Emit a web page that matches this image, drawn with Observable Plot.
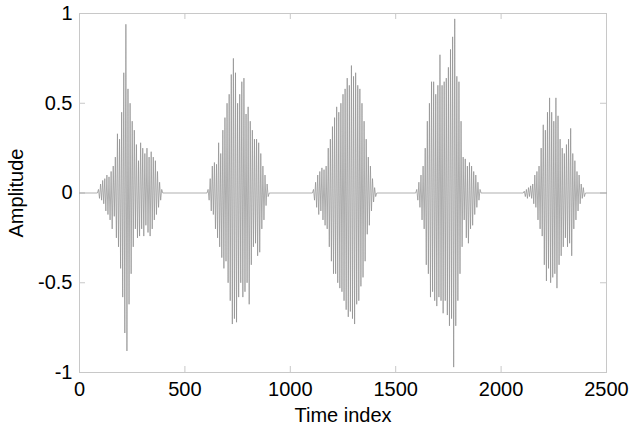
<!DOCTYPE html>
<html>
<head>
<meta charset="utf-8">
<script src="https://cdn.jsdelivr.net/npm/d3@7"></script>
<script src="https://cdn.jsdelivr.net/npm/@observablehq/plot@0.6"></script>
<style>
  html, body { margin: 0; padding: 0; background: #fff; }
  #chart { width: 630px; height: 427px; }
</style>
</head>
<body>
<div id="chart"></div>
<script>
// Burst start time indices and spacing between successive extrema
const burstStarts = [90, 610, 1110, 1600, 2110];
const sampleStep = 5;
const timeEnd = 2500;

// Alternating extrema, per burst
const burst1 = [0.02, -0.03, 0.05, -0.04, 0.07, -0.06, 0.08, -0.10, 0.10, -0.12,
  0.09, -0.15, 0.12, -0.20, 0.15, -0.13, 0.20, -0.25, 0.33, -0.30,
  0.30, -0.42, 0.45, -0.58, 0.67, -0.78, 0.94, -0.88, 0.58, -0.62,
  0.50, -0.45, 0.40, -0.30, 0.35, -0.20, 0.27, -0.25, 0.18, -0.24,
  0.28, -0.20, 0.25, -0.24, 0.22, -0.18, 0.25, -0.22, 0.20, -0.24,
  0.23, -0.20, 0.20, -0.15, 0.18, -0.12, 0.12, -0.08, 0.06, -0.04, 0.02];
const burst2 = [0.02, -0.04, 0.08, -0.10, 0.15, -0.12, 0.17, -0.20, 0.16, -0.25,
  0.28, -0.30, 0.22, -0.36, 0.35, -0.42, 0.42, -0.38, 0.50, -0.50,
  0.55, -0.60, 0.66, -0.73, 0.75, -0.70, 0.67, -0.72, 0.50, -0.58,
  0.55, -0.50, 0.62, -0.58, 0.64, -0.55, 0.44, -0.50, 0.48, -0.62,
  0.40, -0.40, 0.35, -0.30, 0.30, -0.28, 0.30, -0.35, 0.28, -0.33,
  0.22, -0.20, 0.15, -0.15, 0.10, -0.07, 0.05, -0.02];
const burst3 = [0.02, -0.04, 0.06, -0.08, 0.10, -0.12, 0.12, -0.10, 0.14, -0.15,
  0.13, -0.18, 0.15, -0.20, 0.25, -0.30, 0.30, -0.38, 0.37, -0.45,
  0.42, -0.45, 0.48, -0.50, 0.45, -0.53, 0.50, -0.55, 0.55, -0.60,
  0.58, -0.65, 0.64, -0.69, 0.60, -0.66, 0.71, -0.70, 0.65, -0.73,
  0.67, -0.62, 0.60, -0.60, 0.58, -0.52, 0.50, -0.47, 0.40, -0.38,
  0.30, -0.23, 0.20, -0.18, 0.15, -0.10, 0.08, -0.05, 0.03, -0.02];
const burst4 = [0.02, -0.04, 0.06, -0.08, 0.10, -0.15, 0.15, -0.20, 0.25, -0.40,
  0.40, -0.45, 0.50, -0.58, 0.62, -0.55, 0.62, -0.60, 0.55, -0.63,
  0.60, -0.58, 0.77, -0.60, 0.60, -0.67, 0.62, -0.60, 0.64, -0.68,
  0.70, -0.74, 0.80, -0.70, 0.87, -0.97, 0.97, -0.74, 0.65, -0.60,
  0.62, -0.45, 0.40, -0.30, 0.20, -0.15, 0.19, -0.25, 0.15, -0.28,
  0.17, -0.20, 0.15, -0.18, 0.12, -0.12, 0.10, -0.08, 0.06, -0.04, 0.02];
const burst5 = [0.01, -0.02, 0.02, -0.03, 0.03, -0.02, 0.04, -0.03, 0.05, -0.06,
  0.10, -0.08, 0.12, -0.15, 0.15, -0.20, 0.25, -0.24, 0.38, -0.40,
  0.35, -0.49, 0.45, -0.42, 0.53, -0.50, 0.45, -0.47, 0.40, -0.45,
  0.53, -0.53, 0.43, -0.40, 0.30, -0.35, 0.25, -0.30, 0.22, -0.25,
  0.27, -0.30, 0.30, -0.28, 0.36, -0.35, 0.22, -0.20, 0.18, -0.15,
  0.12, -0.10, 0.10, -0.06, 0.05, -0.03, 0.03, -0.02];
const bursts = [burst1, burst2, burst3, burst4, burst5];

const xTicks = [0, 500, 1000, 1500, 2000, 2500];
const xTickLabels = ["0", "500", "1000", "1500", "2000", "2500"];
const yTicks = [-1, -0.5, 0, 0.5, 1];
const yTickLabels = ["-1", "-0.5", "0", "0.5", "1"];
const xLabel = "Time index";
const yLabel = "Amplitude";

// Build the signal table (silent gaps at zero between bursts)
const signal = [{t: 0, a: 0}];
bursts.forEach((vals, k) => {
  const s = burstStarts[k];
  signal.push({t: s - sampleStep, a: 0});
  vals.forEach((v, i) => signal.push({t: s + i * sampleStep, a: v}));
  signal.push({t: s + vals.length * sampleStep, a: 0});
});
signal.push({t: timeEnd, a: 0});

const W = 630, H = 427;
const mL = 79, mR = 24, mT = 13, mB = 55;
const innerW = W - mL - mR, innerH = H - mT - mB;
const tickLen = 6;
const gridGray = "#c8c8c8";
const fs = 20;

const chart = Plot.plot({
  width: W,
  height: H,
  marginLeft: mL,
  marginRight: mR,
  marginTop: mT,
  marginBottom: mB,
  style: {fontFamily: "'Liberation Sans', Arial, sans-serif", fontSize: fs + "px", color: "#000", background: "#fff"},
  x: {domain: [0, timeEnd]},
  y: {domain: [-1, 1]},
  marks: [
    Plot.frame({stroke: gridGray}),
    // inward tick marks on all four sides
    Plot.ruleX(xTicks, {stroke: gridGray, insetTop: innerH - tickLen}),
    Plot.ruleX(xTicks, {stroke: gridGray, insetBottom: innerH - tickLen}),
    Plot.ruleY(yTicks, {stroke: gridGray, insetRight: innerW - tickLen}),
    Plot.ruleY(yTicks, {stroke: gridGray, insetLeft: innerW - tickLen}),
    Plot.line(signal, {x: "t", y: "a", stroke: "#8c8c8c", strokeWidth: 0.7}),
    Plot.axisX(xTicks, {tickSize: 0, tickPadding: 9, fontSize: fs,
      tickFormat: (d, i) => xTickLabels[i], label: null}),
    Plot.axisY(yTicks, {tickSize: 0, tickPadding: 7, fontSize: fs,
      tickFormat: (d, i) => yTickLabels[i], label: null}),
    Plot.text([xLabel], {frameAnchor: "bottom", dy: 43, lineAnchor: "middle", textAnchor: "middle", fontSize: fs, fill: "#000"}),
    Plot.text([yLabel], {frameAnchor: "left", dx: -63, rotate: -90, lineAnchor: "middle", textAnchor: "middle", fontSize: fs, fill: "#000"})
  ]
});
document.getElementById("chart").appendChild(chart);
</script>
</body>
</html>
